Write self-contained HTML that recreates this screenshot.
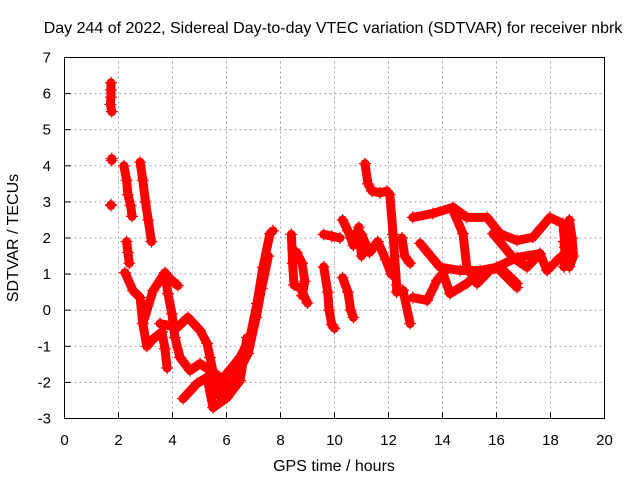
<!DOCTYPE html>
<html><head><meta charset="utf-8"><style>
body{margin:0;background:#fff;}
svg{display:block;font-family:"Liberation Sans",sans-serif;}
</style></head><body>
<svg id="chart" width="640" height="480">
<text x="333" y="33" text-anchor="middle" font-size="16" fill="#000">Day 244 of 2022, Sidereal Day-to-day VTEC variation (SDTVAR) for receiver nbrk</text>
<text x="334" y="471" text-anchor="middle" font-size="16" fill="#000">GPS time / hours</text>
<text transform="translate(18,238) rotate(-90)" text-anchor="middle" font-size="16" fill="#000">SDTVAR / TECUs</text>
<g id="grid"></g><g id="ticks"></g><g id="marks"></g>
<rect x="64.5" y="57.5" width="540" height="361" fill="none" stroke="#000" stroke-width="1"/>
</svg>
<script>
const xTicks=[0,2,4,6,8,10,12,14,16,18,20];
const yTicks=[-3,-2,-1,0,1,2,3,4,5,6,7];
const seg1=[[1.72,6.3],[1.72,6.1],[1.72,5.9],[1.7,5.7],[1.75,5.5]];
const seg2=[[1.75,4.2],[1.75,4.15]];
const seg3=[[1.72,2.9],[1.72,2.92]];
const seg4=[[2.2,4.0],[2.3,3.6],[2.35,3.2],[2.45,2.9],[2.5,2.6]];
const seg5=[[2.8,4.1],[2.9,3.6],[3.0,3.0],[3.1,2.5],[3.22,1.9]];
const seg6=[[2.3,1.9],[2.35,1.6],[2.4,1.3]];
const seg7=[[2.24,1.04],[2.54,0.54],[2.8,0.35],[2.9,-0.37],[3.05,-1.0],[3.28,-0.8],[3.61,-0.6],[3.72,-1.07],[3.8,-1.6]];
const seg8=[[2.9,-0.37],[3.28,0.54],[3.72,1.04],[3.9,0.88],[4.2,0.68]];
const seg9=[[3.72,1.02],[3.83,0.46],[3.98,-0.1],[4.09,-0.76],[4.28,-1.31],[4.65,-1.67],[5.02,-1.48],[5.39,-1.67],[5.65,-2.03]];
const seg10=[[3.54,-0.37],[4.17,-0.48],[4.57,-0.2],[5.02,-0.56],[5.28,-0.92],[5.39,-1.31],[5.5,-1.7],[5.8,-1.9]];
const seg11=[[4.39,-2.45],[4.91,-2.03],[5.28,-1.86],[5.5,-2.7],[6.02,-2.42],[6.5,-1.95],[6.76,-0.76]];
const seg12=[[5.6,-2.2],[6.02,-1.75],[6.5,-1.31],[6.87,-0.76],[7.13,0.19],[7.35,1.19],[7.61,2.12],[7.72,2.2]];
const seg13=[[5.7,-2.35],[6.3,-1.9],[6.8,-1.2],[7.1,-0.2],[7.3,0.6],[7.55,1.5]];
const seg14=[[8.4,2.1],[8.45,1.3],[8.5,0.7],[8.75,0.6],[9.0,0.2]];
const seg15=[[8.6,1.6],[8.8,1.3],[8.9,0.8],[8.8,0.4]];
const seg16=[[9.6,1.2],[9.75,0.5],[9.8,0.0],[9.9,-0.4],[10.0,-0.5]];
const seg17=[[9.6,2.1],[9.9,2.05],[10.2,2.0]];
const seg18=[[10.3,2.5],[10.5,2.2],[10.7,1.8],[10.9,2.3],[11.0,1.5]];
const seg19=[[10.3,0.9],[10.5,0.5],[10.6,0.0],[10.7,-0.2]];
const seg20=[[11.13,4.06],[11.24,3.5],[11.39,3.3],[11.69,3.25],[11.94,3.3],[12.05,3.2],[12.17,2.1],[12.3,0.7],[12.3,0.5]];
const seg21=[[11.0,2.1],[11.3,1.6],[11.6,1.9],[11.9,1.4],[12.1,1.0]];
const seg22=[[12.54,0.55],[12.8,-0.37]];
const seg23=[[12.5,2.0],[12.6,1.5],[12.8,1.3]];
const seg24=[[12.9,0.35],[13.43,0.27],[13.8,0.83],[14.02,1.02],[14.28,0.46],[14.9,0.74],[15.39,1.02],[16.13,1.19],[16.76,0.74]];
const seg25=[[12.9,2.57],[13.65,2.68],[14.39,2.85],[14.9,2.57],[15.65,2.57],[16.13,2.12],[16.76,1.93],[17.35,2.02],[17.98,2.57],[18.46,2.4],[18.54,1.74]];
const seg26=[[14.39,2.76],[14.76,2.12],[14.9,1.19],[15.28,0.74],[15.65,1.02]];
const seg27=[[13.17,1.85],[13.91,1.19],[14.65,1.1],[15.39,1.1],[16.0,1.19],[16.76,1.46],[17.61,1.57],[17.87,1.1],[18.35,1.46]];
const seg28=[[15.87,2.12],[16.61,1.46],[17.13,1.19],[17.61,1.57]];
const seg29=[[16.13,1.1],[16.76,0.63]];
const seg30=[[18.7,2.5],[18.8,2.0],[18.85,1.5],[18.7,1.2]];
const seg31=[[18.5,1.9],[18.55,1.5],[18.5,1.2]];
const segments=[seg1,seg2,seg3,seg4,seg5,seg6,seg7,seg8,seg9,seg10,seg11,seg12,seg13,seg14,seg15,seg16,seg17,seg18,seg19,seg20,seg21,seg22,seg23,seg24,seg25,seg26,seg27,seg28,seg29,seg30,seg31];
const NS='http://www.w3.org/2000/svg';
const X0=64.5,X1=604.5,Y0=418.5,Y1=57.5;
function sx(t){return X0+(t-0)/(20-0)*(X1-X0);}
function sy(v){return Y0-(v-(-3))/(7-(-3))*(Y0-Y1);}
function mk(tag,a){const e=document.createElementNS(NS,tag);for(const k in a)e.setAttribute(k,a[k]);return e;}
const grid=document.getElementById('grid'),ticks=document.getElementById('ticks'),marks=document.getElementById('marks');
xTicks.forEach(t=>{const x=sx(t);
 if(t>0&&t<20){const g=mk('line',{x1:x,y1:Y0,x2:x,y2:Y1,stroke:'#a0a0a0','stroke-dasharray':'2,3'});
 
 grid.appendChild(g);}
 const tk=mk('line',{x1:x,y1:Y0,x2:x,y2:Y0-6,stroke:'#000'});
 
 ticks.appendChild(tk);
 const l=mk('text',{x:x,y:445,'text-anchor':'middle','font-size':'15',fill:'#000'});l.textContent=t;
 
 ticks.appendChild(l);});
yTicks.forEach(v=>{const y=sy(v);
 if(v>-3&&v<7){const g=mk('line',{x1:X0,y1:y,x2:X1,y2:y,stroke:'#a0a0a0','stroke-dasharray':'2,3'});
 
 grid.appendChild(g);}
 const tk=mk('line',{x1:X0,y1:y,x2:X0+6,y2:y,stroke:'#000'});
 
 ticks.appendChild(tk);
 const l=mk('text',{x:51,y:y+5,'text-anchor':'end','font-size':'15',fill:'#000'});l.textContent=v;
 
 ticks.appendChild(l);});
segments.forEach(s=>{
 const p=mk('polyline',{points:s.map(d=>sx(d[0])+','+sy(d[1])).join(' '),fill:'none',stroke:'#ff0000','stroke-width':'9','stroke-linejoin':'round','stroke-linecap':'round'});
 
 marks.appendChild(p);
 s.forEach(d=>{const x=sx(d[0]),y=sy(d[1]);
  const m=mk('path',{d:`M${x-6},${y}H${x+6}M${x},${y-6}V${y+6}`,stroke:'#ff0000','stroke-width':'1.2'});
  
  marks.appendChild(m);});
});
</script>
</body></html>
